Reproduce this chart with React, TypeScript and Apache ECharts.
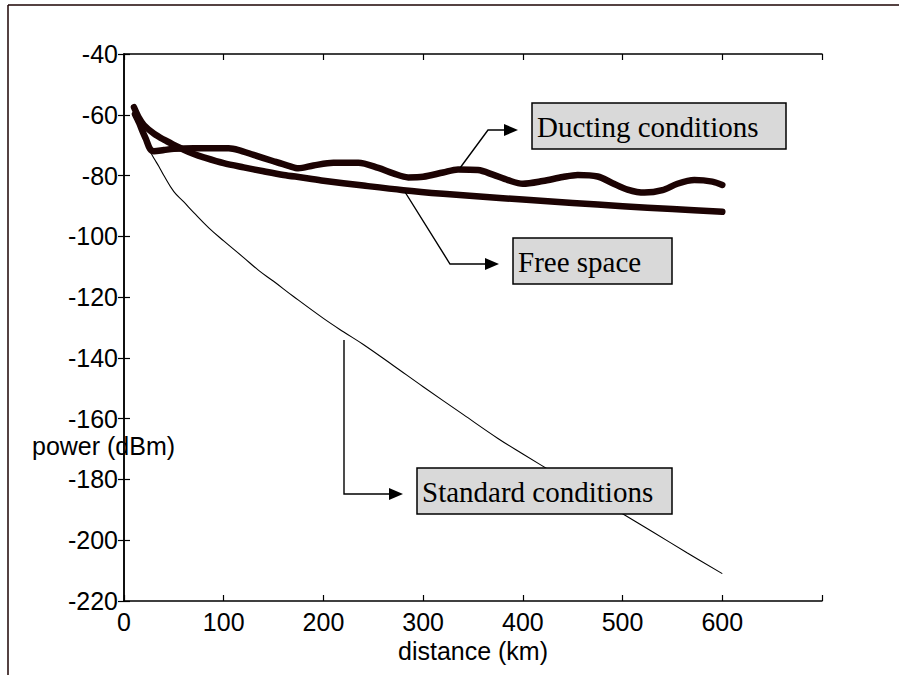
import React, { useEffect, useRef } from "react";
import * as echarts from "echarts";

// distance (km) and received power (dBm)
const freeKm = [10, 15, 20, 30, 40, 50, 60, 70, 80, 100, 120, 140, 160, 180, 200, 240, 280, 320, 360, 400, 450, 500, 550, 600];
const freeDb = [-57.5, -61, -63.4, -66.2, -68.2, -69.9, -71.5, -72.9, -74, -75.9, -77.3, -78.6, -79.8, -80.7, -81.7, -83.3, -84.8, -86, -87, -87.9, -89, -90.1, -91, -91.9];

const ductKm = [11, 15, 18, 22, 26, 30, 40, 50, 70, 90, 105, 115, 130, 150, 165, 175, 190, 210, 235, 255, 270, 285, 300, 320, 335, 355, 370, 385, 400, 420, 440, 455, 475, 490, 505, 522, 540, 555, 572, 590, 600];
const ductDb = [-59.8, -62.5, -65, -68, -71.2, -72, -71.6, -71.2, -71, -71, -71, -71.6, -73.2, -75.3, -76.8, -77.6, -76.7, -75.8, -75.8, -77.5, -79.3, -80.6, -80.4, -79, -78, -78.2, -79.7, -81.5, -82.7, -81.8, -80.5, -79.8, -80.3, -82.5, -84.6, -85.6, -84.8, -82.7, -81.5, -82, -83.1];

const stdKm = [11, 16, 20, 25, 30, 35, 40, 50, 60, 70, 85, 100, 120, 135, 150, 170, 200, 220, 240, 270, 300, 340, 375, 400, 435, 470, 500, 530, 565, 600];
const stdDb = [-60.5, -64.5, -67.5, -71.3, -74.3, -77, -80, -85.3, -88.7, -92.2, -97.2, -101.5, -107, -111.2, -114.8, -119.8, -127, -131.4, -135.6, -142.5, -149.5, -158.6, -166.5, -171.6, -178.6, -185.4, -191.3, -197.2, -204.2, -211];

const yTicks = [-220, -200, -180, -160, -140, -120, -100, -80, -60, -40];
const xTicks = [0, 100, 200, 300, 400, 500, 600];

const annotations = ["Ducting conditions", "Free space", "Standard conditions"];

const SANS = "'Liberation Sans', Arial, Helvetica, sans-serif";
const SERIF = "'Liberation Serif', 'Times New Roman', serif";
const INK = "#1c0303";

function pairs(xs: number[], ys: number[]) {
  return xs.map((x, i) => [x, ys[i]]);
}

function arrow(points: number[][], tip: number[]) {
  const [tx, ty] = tip;
  return [
    {
      type: "polyline",
      z: 100,
      shape: { points },
      style: { stroke: "#000", lineWidth: 1.4, fill: null },
    },
    {
      type: "polygon",
      z: 100,
      shape: { points: [[tx, ty], [tx - 14, ty - 6], [tx - 14, ty + 6]] },
      style: { fill: "#000" },
    },
  ];
}

function box(x: number, y: number, w: number, h: number, text: string) {
  return [
    {
      type: "rect",
      z: 100,
      shape: { x, y, width: w, height: h },
      style: { fill: "#d9d9d9", stroke: "#000", lineWidth: 1.5 },
    },
    {
      type: "text",
      z: 101,
      x: x + 5,
      y: y + h / 2 + 1,
      style: {
        text,
        font: `29px ${SERIF}`,
        fill: "#000",
        textVerticalAlign: "middle",
        textAlign: "left",
      },
    },
  ];
}

export default function App() {
  const ref = useRef<HTMLDivElement>(null);
  useEffect(() => {
    document.body.style.margin = "0";
    const chart = echarts.init(ref.current!, null, { renderer: "svg" });
    const axisCommon = {
      type: "value",
      axisLine: { show: true, lineStyle: { color: "#000", width: 1.5 } },
      axisTick: { show: true, inside: true, length: 6, lineStyle: { color: "#000", width: 1.2 } },
      splitLine: { show: false },
    };
    const xBase = { ...axisCommon, min: 0, max: 700, interval: 100 };
    const yBase = { ...axisCommon, min: -220, max: -40, interval: 20 };
    chart.setOption({
      animation: false,
      backgroundColor: "#fff",
      grid: { left: 124, top: 54, right: 77, bottom: 74, containLabel: false },
      xAxis: [
        {
          ...xBase,
          position: "bottom",
          name: "distance (km)",
          nameLocation: "middle",
          nameGap: 34,
          nameTextStyle: { fontFamily: SANS, fontSize: 25, color: "#000" },
          axisLabel: {
            fontFamily: SANS,
            fontSize: 25,
            color: "#000",
            margin: 8,
            formatter: (v: number) => (xTicks.includes(v) ? String(v) : ""),
          },
        },
        { ...xBase, position: "top", axisLabel: { show: false } },
      ],
      yAxis: [
        {
          ...yBase,
          position: "left",
          axisLabel: {
            fontFamily: SANS,
            fontSize: 25,
            color: "#000",
            margin: 6,
            formatter: (v: number) => (yTicks.includes(v) ? String(v) : ""),
          },
        },
        { ...yBase, position: "right", axisLabel: { show: false } },
      ],
      series: [
        {
          name: "Standard conditions",
          type: "line",
          data: pairs(stdKm, stdDb),
          showSymbol: false,
          smooth: 0.4,
          lineStyle: { color: "#000", width: 1.1 },
          z: 2,
        },
        {
          name: "Free space",
          type: "line",
          data: pairs(freeKm, freeDb),
          showSymbol: false,
          smooth: 0.3,
          lineStyle: { color: INK, width: 6.5, cap: "round", join: "round" },
          z: 3,
        },
        {
          name: "Ducting conditions",
          type: "line",
          data: pairs(ductKm, ductDb),
          showSymbol: false,
          smooth: 0.3,
          lineStyle: { color: INK, width: 6.5, cap: "round", join: "round" },
          z: 3,
        },
      ],
      graphic: [
        { type: "line", z: 100, shape: { x1: 8, y1: 5, x2: 899, y2: 5 }, style: { stroke: INK, lineWidth: 1.5 } },
        { type: "line", z: 100, shape: { x1: 8, y1: 5, x2: 8, y2: 675 }, style: { stroke: INK, lineWidth: 1.5 } },
        {
          type: "text",
          z: 100,
          x: 32,
          y: 446,
          style: {
            text: "power (dBm)",
            font: `25px ${SANS}`,
            fill: "#000",
            textVerticalAlign: "middle",
            textAlign: "left",
          },
        },
        ...arrow([[460, 168], [488, 130], [505, 130]], [518, 130]),
        ...arrow([[405, 192], [450, 264], [486, 264]], [499, 264]),
        ...arrow([[344, 340], [344, 494], [390, 494]], [403, 494]),
        ...box(532, 103, 254, 46, annotations[0]),
        ...box(513, 238, 159, 46, annotations[1]),
        ...box(417, 468, 255, 46, annotations[2]),
      ],
    });
    return () => chart.dispose();
  }, []);
  return <div ref={ref} style={{ width: 899, height: 675 }} />;
}
